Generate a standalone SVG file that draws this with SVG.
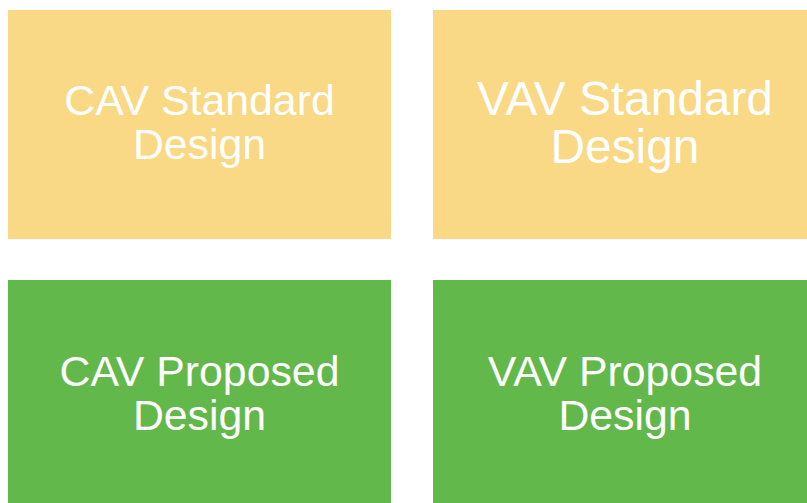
<svg xmlns="http://www.w3.org/2000/svg" width="807" height="503" viewBox="0 0 807 503">
<style>
.std{fill:#F9D886}
.prop{fill:#62B84B}
.lbl{font-family:"Liberation Sans",Arial,sans-serif;fill:#FFFFFF;text-anchor:middle}
</style>
<rect width="807" height="503" fill="#FFFFFF"/>
<g id="cav-standard">
<rect class="std" x="8" y="10" width="383" height="229"/>
<text class="lbl" font-size="42.8"><tspan x="199.5" y="115">CAV Standard</tspan><tspan x="199.5" y="159">Design</tspan></text>
</g>
<g id="vav-standard">
<rect class="std" x="433" y="10" width="384" height="229"/>
<text class="lbl" font-size="47.8"><tspan x="625" y="115">VAV Standard</tspan><tspan x="625" y="163">Design</tspan></text>
</g>
<g id="cav-proposed">
<rect class="prop" x="8" y="280" width="383" height="233"/>
<text class="lbl" font-size="42.8"><tspan x="199.5" y="386">CAV Proposed</tspan><tspan x="199.5" y="430">Design</tspan></text>
</g>
<g id="vav-proposed">
<rect class="prop" x="433" y="280" width="384" height="233"/>
<text class="lbl" font-size="42.8"><tspan x="625" y="386">VAV Proposed</tspan><tspan x="625" y="430">Design</tspan></text>
</g>
<g id="connectors"/>
</svg>
